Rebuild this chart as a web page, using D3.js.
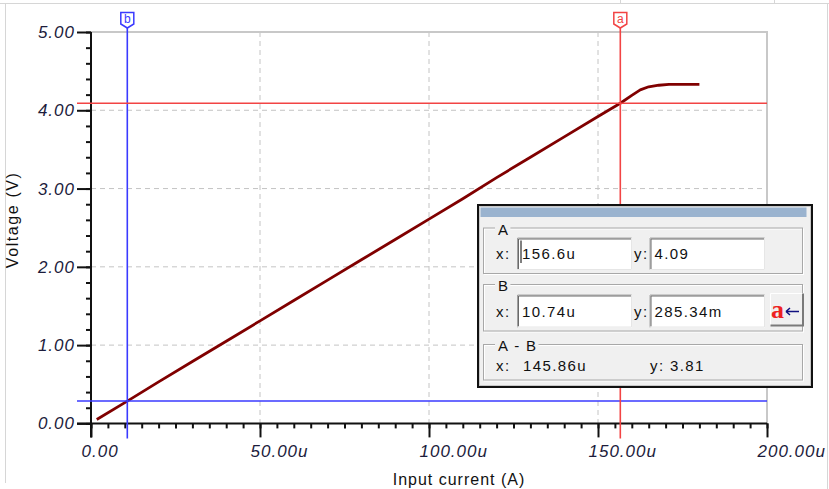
<!DOCTYPE html>
<html>
<head>
<meta charset="utf-8">
<script src="https://cdn.jsdelivr.net/npm/d3@7"></script>
<style>
  body { margin: 0; background: #fff; }
  svg { display: block; }
  .tick text { font-family: "Liberation Sans", Arial, sans-serif; font-style: italic; font-size: 17px; letter-spacing: 1px; fill: #1c1c3c; }
  .ui { font-family: "Liberation Sans", Arial, sans-serif; font-size: 15px; letter-spacing: 1.4px; fill: #111; }
</style>
</head>
<body>
<svg id="chart" width="829" height="489"></svg>
<script>
// transfer curve, input current in uA, output in V
const currentU = [1.7, 10.74, 20, 30, 40, 50, 60, 70, 80, 90, 100, 110, 120, 130, 140, 150, 156.6, 160, 162.5, 165, 168, 171, 180];
const voltage  = [0.05, 0.285, 0.53, 0.79, 1.05, 1.31, 1.57, 1.83, 2.09, 2.35, 2.61, 2.87, 3.14, 3.40, 3.66, 3.92, 4.09, 4.19, 4.26, 4.30, 4.32, 4.33, 4.33];

const xMajor = [0, 50, 100, 150, 200];
const yMajor = [0, 1, 2, 3, 4, 5];
const xMinor = d3.range(0, 201, 5);
const yMinor = d3.range(0, 5.01, 0.2);

// cursors
const cursorA = {name: 'a', x: 156.6, y: 4.09, xText: '156.6u', yText: '4.09'};
const cursorB = {name: 'b', x: 10.74, y: 0.28534, xText: '10.74u', yText: '285.34m'};
const diffText = {x: '145.86u', y: '3.81'};

const svg = d3.select('#chart');
const x = d3.scaleLinear().domain([0, 200]).range([91, 767]);
const y = d3.scaleLinear().domain([0, 5]).range([423.4, 32]);

// window frame lines
const frame = svg.append('g').attr('stroke', '#d6d6d6').attr('stroke-width', 1);
frame.append('line').attr('x1', 0).attr('x2', 829).attr('y1', 3.5).attr('y2', 3.5);
frame.append('line').attr('x1', 5.5).attr('x2', 5.5).attr('y1', 3.5).attr('y2', 483);
frame.append('line').attr('x1', 827.5).attr('x2', 827.5).attr('y1', 3.5).attr('y2', 489);
[620.5, 774.5].forEach(v => frame.append('line').attr('x1', v).attr('x2', v).attr('y1', 0).attr('y2', 3.5));

// grid
const grid = svg.append('g').attr('stroke', '#c4c4c4').attr('stroke-width', 1).attr('stroke-dasharray', '5,4');
xMajor.slice(1, -1).forEach(v => grid.append('line').attr('x1', x(v)).attr('x2', x(v)).attr('y1', y(5)).attr('y2', y(0)));
yMajor.slice(1, -1).forEach(v => grid.append('line').attr('x1', x(0)).attr('x2', x(200)).attr('y1', y(v)).attr('y2', y(v)));

// plot border top / right
svg.append('path')
  .attr('d', `M${x(0)},${y(5)}H${x(200)}V${y(0)}`)
  .attr('fill', 'none').attr('stroke', '#c8c8c8').attr('stroke-width', 2);

// minor ticks
svg.append('g').attr('transform', `translate(${x(0)},0)`)
  .call(d3.axisLeft(y).tickValues(yMinor).tickSize(5).tickFormat(''))
  .call(g => g.select('.domain').remove())
  .selectAll('line').attr('stroke', '#111').attr('stroke-width', 2);
svg.append('g').attr('transform', `translate(0,${y(0)})`)
  .call(d3.axisBottom(x).tickValues(xMinor).tickSize(5).tickFormat(''))
  .call(g => g.select('.domain').remove())
  .selectAll('line').attr('stroke', '#111').attr('stroke-width', 2);

// major ticks and labels
const yAxis = svg.append('g').attr('transform', `translate(${x(0)},0)`)
  .call(d3.axisLeft(y).tickValues(yMajor).tickSize(14).tickPadding(2).tickFormat(d => d.toFixed(2)))
  .call(g => g.select('.domain').remove());
yAxis.selectAll('line').attr('stroke', '#111').attr('stroke-width', 2);

const xAxis = svg.append('g').attr('transform', `translate(0,${y(0)})`)
  .call(d3.axisBottom(x).tickValues(xMajor).tickSize(14).tickPadding(8).tickFormat(d => d === 0 ? '0.00' : d.toFixed(2) + 'u'))
  .call(g => g.select('.domain').remove());
xAxis.selectAll('line').attr('stroke', '#111').attr('stroke-width', 2);
xAxis.selectAll('text').attr('text-anchor', 'start').attr('x', -10);

// axis lines
svg.append('line').attr('x1', x(0)).attr('x2', x(0)).attr('y1', y(5)).attr('y2', y(0) + 14)
  .attr('stroke', '#111').attr('stroke-width', 2);
svg.append('line').attr('x1', x(0) - 14).attr('x2', x(200)).attr('y1', y(0)).attr('y2', y(0))
  .attr('stroke', '#111').attr('stroke-width', 2);

// axis titles
svg.append('text').attr('class', 'ui')
  .attr('transform', `translate(18,${y(2.6)}) rotate(-90)`)
  .attr('text-anchor', 'middle').style('font-size', '16px').style('letter-spacing', '1.6px')
  .text('Voltage (V)');
svg.append('text').attr('class', 'ui')
  .attr('x', 459).attr('y', 485).attr('text-anchor', 'middle')
  .style('font-size', '16px').style('letter-spacing', '1px')
  .text('Input current (A)');

// curve
const line = d3.line().x((d, i) => x(currentU[i])).y(d => y(d));
svg.append('path').datum(voltage)
  .attr('d', line).attr('fill', 'none')
  .attr('stroke', '#800000').attr('stroke-width', 2.8).attr('stroke-linejoin', 'round');

// cursor lines
function drawCursor(c, color) {
  const g = svg.append('g');
  g.append('line').attr('x1', x(0) - 14).attr('x2', x(200)).attr('y1', y(c.y)).attr('y2', y(c.y))
    .attr('stroke', color).attr('stroke-width', 1.6);
  g.append('line').attr('x1', x(c.x)).attr('x2', x(c.x)).attr('y1', 27).attr('y2', y(0) + 15)
    .attr('stroke', color).attr('stroke-width', 1.6);
  const cx = x(c.x);
  g.append('path')
    .attr('d', `M${cx - 6.5},12.5H${cx + 6.5}V24L${cx},28L${cx - 6.5},24Z`)
    .attr('fill', '#fff').attr('stroke', color).attr('stroke-width', 1.5);
  g.append('text').attr('x', cx).attr('y', 23).attr('text-anchor', 'middle')
    .style('font-family', 'Liberation Sans, Arial, sans-serif').style('font-size', '12px')
    .attr('fill', color).text(c.name);
}
drawCursor(cursorB, '#3a3aff');
drawCursor(cursorA, '#f24444');

// cursor readout dialog
const dlg = svg.append('g');
dlg.append('rect').attr('x', 478).attr('y', 205).attr('width', 334).attr('height', 182)
  .attr('fill', '#f0f0f0').attr('stroke', '#111').attr('stroke-width', 2);
dlg.append('rect').attr('x', 479.5).attr('y', 206.5).attr('width', 331).attr('height', 179)
  .attr('fill', 'none').attr('stroke', '#c8c8c8').attr('stroke-width', 1);
dlg.append('rect').attr('x', 480.5).attr('y', 207.5).attr('width', 326).attr('height', 9.5)
  .attr('fill', '#9ab3cf');

function group(y0, y1, label) {
  dlg.append('rect').attr('x', 484.5).attr('y', y0 + 0.5).attr('width', 319).attr('height', y1 - y0)
    .attr('fill', 'none').attr('stroke', '#fff').attr('stroke-width', 1);
  dlg.append('rect').attr('x', 483.5).attr('y', y0 - 0.5).attr('width', 319).attr('height', y1 - y0)
    .attr('fill', 'none').attr('stroke', '#a8a8a8').attr('stroke-width', 1);
  const t = dlg.append('text').attr('class', 'ui').attr('x', 498).attr('y', y0 + 6).text(label);
  const w = t.node().getComputedTextLength();
  dlg.insert('rect', 'text:last-of-type').attr('x', 495).attr('y', y0 - 3).attr('width', w + 4).attr('height', 6)
    .attr('fill', '#f0f0f0');
}
function field(x0, y0, w, h, txt) {
  dlg.append('rect').attr('x', x0).attr('y', y0).attr('width', w).attr('height', h).attr('fill', '#fff');
  dlg.append('path').attr('d', `M${x0 + 0.5},${y0 + h}V${y0 + 0.5}H${x0 + w}`)
    .attr('fill', 'none').attr('stroke', '#a0a0a0').attr('stroke-width', 1);
  dlg.append('path').attr('d', `M${x0 + 1.5},${y0 + h - 1}V${y0 + 1.5}H${x0 + w - 1}`)
    .attr('fill', 'none').attr('stroke', '#6a6a6a').attr('stroke-width', 1);
  dlg.append('path').attr('d', `M${x0},${y0 + h - 0.5}H${x0 + w - 0.5}V${y0}`)
    .attr('fill', 'none').attr('stroke', '#e6e6e6').attr('stroke-width', 1);
  dlg.append('text').attr('class', 'ui').attr('x', x0 + 5).attr('y', y0 + h / 2 + 5.5).text(txt);
}

group(228.5, 274, 'A');
dlg.append('text').attr('class', 'ui').attr('x', 496).attr('y', 259).text('x:');
field(517, 237.5, 115, 32.5, cursorA.xText);
dlg.append('line').attr('x1', 521).attr('x2', 521).attr('y1', 240.5).attr('y2', 263)
  .attr('stroke', '#000').attr('stroke-width', 1);
dlg.append('text').attr('class', 'ui').attr('x', 634).attr('y', 259).text('y:');
field(649.5, 237.5, 115.5, 32.5, cursorA.yText);

group(285, 331.5, 'B');
dlg.append('text').attr('class', 'ui').attr('x', 496).attr('y', 316.5).text('x:');
field(517, 294.5, 115, 33, cursorB.xText);
dlg.append('text').attr('class', 'ui').attr('x', 634).attr('y', 316.5).text('y:');
field(649.5, 294.5, 115.5, 33, cursorB.yText);

// swap button
dlg.append('rect').attr('x', 770).attr('y', 293.5).attr('width', 33).attr('height', 32).attr('fill', '#f0f0f0');
dlg.append('path').attr('d', 'M770.5,325.5V293.5H803')
  .attr('fill', 'none').attr('stroke', '#fff').attr('stroke-width', 1);
dlg.append('path').attr('d', 'M770.5,325.5H803V293.5')
  .attr('fill', 'none').attr('stroke', '#7a7a7a').attr('stroke-width', 2);
dlg.append('text').attr('x', 771).attr('y', 318)
  .style('font-family', 'Liberation Serif, Times New Roman, serif').style('font-size', '26px').style('font-weight', 'bold')
  .attr('fill', '#ee2222').text('a');
dlg.append('path').attr('d', 'M786,311.5H799M786,311.5L790,308M786,311.5L790,315')
  .attr('fill', 'none').attr('stroke', '#101080').attr('stroke-width', 1.5);

group(345, 380.5, 'A - B');
dlg.append('text').attr('class', 'ui').attr('x', 496).attr('y', 370.5).text('x:');
dlg.append('text').attr('class', 'ui').attr('x', 523).attr('y', 370.5).text(diffText.x);
dlg.append('text').attr('class', 'ui').attr('x', 650).attr('y', 370.5).text('y: ' + diffText.y);
</script>
</body>
</html>
